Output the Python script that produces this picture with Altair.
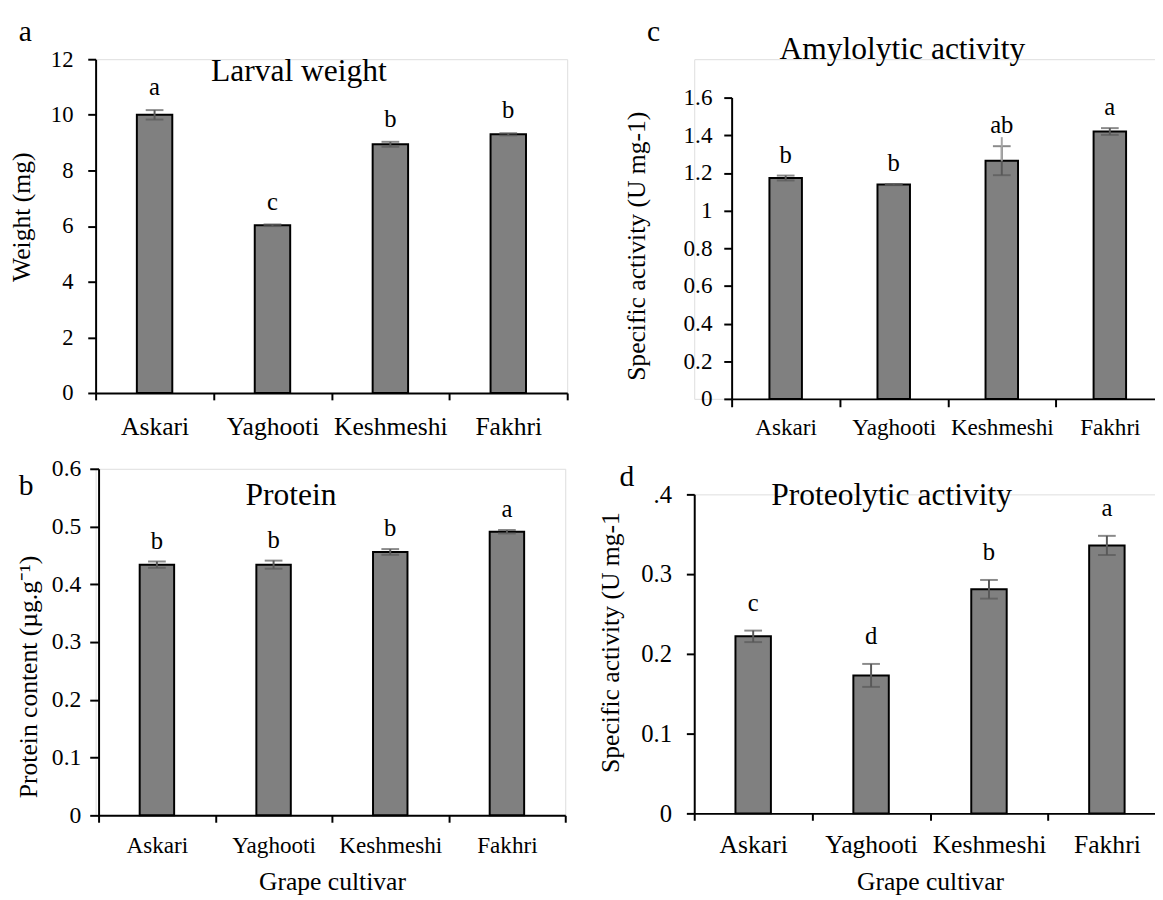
import altair as alt
import pandas as pd

FONT = "Liberation Serif"

cultivars = ["Askari", "Yaghooti", "Keshmeshi", "Fakhri"]

weight_mean = [10.0, 6.03, 8.94, 9.30]
weight_err = [0.17, 0.03, 0.09, 0.04]
weight_letters = ["a", "c", "b", "b"]
weight_ticks = [0, 2, 4, 6, 8, 10, 12]

protein_mean = [0.434, 0.434, 0.456, 0.491]
protein_err = [0.0055, 0.007, 0.005, 0.003]
protein_letters = ["b", "b", "b", "a"]
protein_ticks = [0, 0.1, 0.2, 0.3, 0.4, 0.5, 0.6]

amylo_mean = [1.173, 1.138, 1.265, 1.420]
amylo_err = [0.013, 0.003, 0.077, 0.018]
amylo_letters = ["b", "b", "ab", "a"]
amylo_ticks = [0, 0.2, 0.4, 0.6, 0.8, 1.0, 1.2, 1.4, 1.6]
# stray light-grey whisker visible above the Keshmeshi bar
amylo_stray_top = [None, None, 1.39, None]

proteo_mean = [0.222, 0.173, 0.281, 0.336]
proteo_err = [0.0072, 0.0144, 0.0117, 0.012]
proteo_letters = ["c", "d", "b", "a"]
proteo_ticks = [0, 0.1, 0.2, 0.3, 0.4]


def panel(mean, err, letters, ticks, ymax, ytitle, xtitle, title, tag, *,
          width, height, xoff, yoff, bar_size, ylab_size, ylab_pad, ytick,
          xlab_size, xlab_pad, xtick, ytitle_x, ytitle_y, xtitle_y,
          tag_x, tag_y, title_x, title_y, letter_dy, label_expr=None,
          stray=None):
    df = pd.DataFrame({
        "cultivar": cultivars,
        "mean": mean,
        "lo": [m - e for m, e in zip(mean, err)],
        "hi": [m + e for m, e in zip(mean, err)],
        "letter": letters,
    })
    xaxis = dict(labelAngle=0, labelFont=FONT, labelFontSize=xlab_size,
                 labelColor="black", labelPadding=xlab_pad, labelOverlap=False,
                 labelBound=False, tickBand="extent", tickSize=xtick,
                 tickWidth=2, tickColor="black", domainColor="black",
                 domainWidth=2, grid=False)
    if xtitle:
        xaxis.update(title=xtitle, titleFont=FONT, titleFontSize=26,
                     titleFontWeight="normal", titleColor="black",
                     titleY=xtitle_y, titleBaseline="alphabetic")
    x = alt.X("cultivar:N", sort=cultivars,
              title=xtitle if xtitle else None,
              scale=alt.Scale(range=[xoff, width], paddingInner=0,
                              paddingOuter=0),
              axis=alt.Axis(**xaxis))
    yaxis = dict(values=ticks, format="~g", title=ytitle, titleFont=FONT,
                 titleFontSize=26, titleFontWeight="normal",
                 titleColor="black", titleX=ytitle_x, titleY=ytitle_y,
                 titleBaseline="alphabetic", titleAngle=-90,
                 labelFont=FONT, labelFontSize=ylab_size, labelColor="black",
                 labelPadding=ylab_pad, tickSize=ytick, tickWidth=2,
                 tickColor="black", domainColor="black", domainWidth=2,
                 grid=False, offset=-xoff)
    if label_expr:
        yaxis["labelExpr"] = label_expr
    yscale = alt.Scale(domain=[0, ymax], nice=False, zero=True,
                       range=[height, yoff])

    def Y(field):
        return alt.Y(f"{field}:Q", scale=yscale, axis=alt.Axis(**yaxis),
                     title=ytitle)

    base = alt.Chart(df)
    bars = base.mark_bar(size=bar_size, color="#808080", stroke="black",
                         strokeWidth=2).encode(x=x, y=Y("mean"))
    rule = base.mark_rule(color="#595959", strokeWidth=2).encode(
        x=x, y=Y("lo"), y2="hi:Q")
    cap_lo = base.mark_tick(color="#595959", thickness=2, size=18).encode(
        x=x, y=Y("lo"))
    cap_hi = base.mark_tick(color="#595959", thickness=2, size=18).encode(
        x=x, y=Y("hi"))
    lett = base.mark_text(font=FONT, fontSize=25, color="black",
                          baseline="alphabetic", dy=-letter_dy).encode(
        x=x, y=Y("hi"), text="letter:N")
    tag_t = alt.Chart(pd.DataFrame({"t": [tag]})).mark_text(
        font=FONT, fontSize=30, color="black", align="left",
        baseline="alphabetic").encode(
        x=alt.value(tag_x), y=alt.value(tag_y), text="t:N")
    title_t = alt.Chart(pd.DataFrame({"t": [title]})).mark_text(
        font=FONT, fontSize=32, color="black", align="center",
        baseline="alphabetic").encode(
        x=alt.value(title_x), y=alt.value(title_y), text="t:N")
    layers = [bars, rule, cap_lo, cap_hi]
    if stray:
        sdf = pd.DataFrame({"cultivar": cultivars, "mean": mean,
                            "top": stray}).dropna()
        layers.append(alt.Chart(sdf).mark_rule(
            color="#a6a6a6", strokeWidth=2).encode(
            x=x, y=Y("mean"), y2="top:Q"))
    layers += [lett, tag_t, title_t]
    return alt.layer(*layers).properties(width=width, height=height)


pa = panel(weight_mean, weight_err, weight_letters, weight_ticks, 12,
           "Weight (mg)", None, "Larval weight", "a",
           width=479, height=339, xoff=0, yoff=0, bar_size=36,
           ylab_size=23, ylab_pad=15, ytick=8, xlab_size=26, xlab_pad=14,
           xtick=7, ytitle_x=-67, ytitle_y=160, xtitle_y=0,
           tag_x=-78, tag_y=-19, title_x=206.5, title_y=22, letter_dy=15)

pb = panel(protein_mean, protein_err, protein_letters, protein_ticks, 0.6,
           "Protein content (µg.g⁻¹)", "Grape cultivar", "Protein", "b",
           width=477, height=352, xoff=3, yoff=0, bar_size=35,
           ylab_size=24, ylab_pad=9, ytick=9, xlab_size=23.5, xlab_pad=12,
           xtick=7, ytitle_x=-63, ytitle_y=211, xtitle_y=75,
           tag_x=-78, tag_y=27, title_x=198.5, title_y=37, letter_dy=13)

pc = panel(amylo_mean, amylo_err, amylo_letters, amylo_ticks, 1.6,
           "Specific activity (U mg-1)", None, "Amylolytic activity", "c",
           width=477, height=345, xoff=38, yoff=39, bar_size=33,
           ylab_size=23.5, ylab_pad=12, ytick=8, xlab_size=23.5, xlab_pad=9,
           xtick=8, ytitle_x=-88, ytitle_y=189.5, xtitle_y=0,
           tag_x=-48, tag_y=-19, title_x=211.5, title_y=0, letter_dy=13,
           stray=amylo_stray_top)

pd_ = panel(proteo_mean, proteo_err, proteo_letters, proteo_ticks, 0.4,
            "Specific activity (U mg-1", "Grape cultivar",
            "Proteolytic activity", "d",
            width=479, height=324, xoff=0, yoff=0, bar_size=36,
            ylab_size=25, ylab_pad=15, ytick=8, xlab_size=26, xlab_pad=12,
            xtick=7, ytitle_x=-77, ytitle_y=150, xtitle_y=77,
            tag_x=-76, tag_y=-9, title_x=200.5, title_y=11, letter_dy=20,
            label_expr="datum.value > 0.35 ? '.4' : datum.label")

left = alt.vconcat(pa, pb, spacing=77, bounds="flush")
right = alt.vconcat(pc, pd_, spacing=97, bounds="flush")

chart = alt.hconcat(left, right, spacing=28).properties(
    padding={"left": 0, "top": 1, "right": -13, "bottom": 0}
).configure_view(strokeWidth=0).configure(background="white")

chart.save("out.html", embed_options={"renderer": "svg", "actions": False})
